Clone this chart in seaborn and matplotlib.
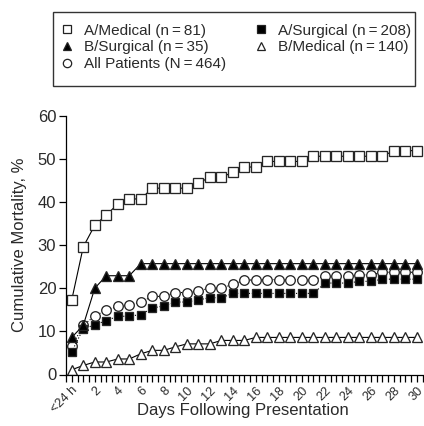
import matplotlib
matplotlib.use("Agg")
import matplotlib.pyplot as plt
from matplotlib.lines import Line2D
from matplotlib.patches import Rectangle
import numpy as np
import pandas as pd
import seaborn as sns

# ---- data ----
days = list(range(31))  # 0 = <24 h, then days 1..30
tick_positions = list(range(0, 31, 2))
tick_labels = ["<24 h"] + [str(d) for d in range(2, 31, 2)]

a_medical = [17.3, 29.6, 34.6, 37.0, 39.5, 40.7, 40.7, 43.2, 43.2, 43.2, 43.2,
             44.4, 45.7, 45.7, 46.9, 48.1, 48.1, 49.4, 49.4, 49.4, 49.4,
             50.6, 50.6, 50.6, 50.6, 50.6, 50.6, 50.6, 51.9, 51.9, 51.9]
a_surgical = [5.3, 10.6, 11.5, 12.5, 13.5, 13.5, 13.9, 15.4, 15.9, 16.8, 16.8,
              17.3, 17.8, 17.8, 18.8, 18.8, 18.8, 18.8, 18.8, 18.8, 18.8,
              18.8, 21.2, 21.2, 21.2, 21.6, 21.6, 22.1, 22.1, 22.1, 22.1]
b_surgical = [8.6, 11.4, 20.0, 22.9, 22.9, 22.9] + [25.7] * 25
b_medical = [1.1, 2.1, 2.9, 2.9, 3.6, 3.6, 4.8, 5.6, 5.6, 6.4, 7.1, 7.1, 7.1,
             7.9, 7.9, 7.9] + [8.6] * 15
all_patients = [6.5, 11.4, 13.6, 14.9, 15.8, 16.1, 16.8, 18.1, 18.1, 19.0, 19.0,
                19.4, 20.0, 20.0, 20.9, 21.8, 22.0, 22.0, 22.0, 22.0, 22.0,
                22.0, 22.8, 22.8, 22.8, 23.1, 23.1, 23.7, 23.7, 23.7, 23.7]

labels = ["A/Medical (n\u2009=\u200981)", "A/Surgical (n\u2009=\u2009208)",
          "B/Surgical (n\u2009=\u200935)", "B/Medical (n\u2009=\u2009140)",
          "All Patients (N\u2009=\u2009464)"]

sns.set_style("ticks")
plt.rcParams["font.family"] = ["Liberation Sans", "DejaVu Sans"]
TXT = "#2a2a2a"
W, H = 424, 426

fig, ax = plt.subplots(figsize=(W / 100, H / 100), dpi=100)
fig.subplots_adjust(left=66 / W, right=422.75 / W, bottom=1 - 374.5 / H,
                    top=1 - 115.7 / H)

styles = {
    labels[0]: dict(marker="s", mfc="white", ls="-", ms=6.7),
    labels[1]: dict(marker="s", mfc="black", ls=":", ms=5.6),
    labels[2]: dict(marker="^", mfc="black", ls="-", ms=6.6),
    labels[4]: dict(marker="o", mfc="white", ls=":", ms=6.9),
    labels[3]: dict(marker="^", mfc="white", ls="-", ms=7.5),
}
series = {labels[0]: a_medical, labels[1]: a_surgical, labels[2]: b_surgical,
          labels[3]: b_medical, labels[4]: all_patients}

for name in [labels[3], labels[4], labels[1], labels[2], labels[0]]:
    st = styles[name]
    df = pd.DataFrame({"day": days, "pct": series[name]})
    sns.lineplot(data=df, x="day", y="pct", ax=ax, color="black", lw=0.8,
                 linestyle=st["ls"], marker=st["marker"], markersize=st["ms"],
                 markerfacecolor=st["mfc"], markeredgecolor="#262626",
                 markeredgewidth=0.95)

ax.set_xlim(-0.5, 30.5)
ax.set_ylim(0, 60)
ax.set_yticks([0, 10, 20, 30, 40, 50, 60])
ax.set_xticks(tick_positions)
ax.set_xticklabels(tick_labels, rotation=45, ha="right", va="top",
                   rotation_mode="anchor")
ax.set_xticks(np.arange(-0.5, 30.51, 0.5), minor=True)
ax.tick_params(axis="both", which="major", direction="out", length=5, width=0.9,
               color="black", labelcolor=TXT, pad=2)
ax.tick_params(axis="y", labelsize=12)
ax.tick_params(axis="x", labelsize=9.2)
ax.tick_params(axis="x", which="minor", direction="out", length=5, width=0.9,
               color="black")
sns.despine(ax=ax)
for s in ["left", "bottom"]:
    ax.spines[s].set_color("black")
    ax.spines[s].set_linewidth(0.9)

ax.set_xlabel("Days Following Presentation", fontsize=12, color=TXT)
ax.set_ylabel("Cumulative Mortality, %", fontsize=12, color=TXT)
ax.xaxis.set_label_coords((243 - 66) / 356.75, -(411 - 374.5) / 258.8)
ax.xaxis.label.set_va("center")
ax.yaxis.set_label_coords(-(66 - 20) / 356.75, 0.5)
ax.yaxis.label.set_va("center")

# legend box and entries
fig.add_artist(Rectangle((53 / W, 1 - 86 / H), 362 / W, 74 / H,
                         transform=fig.transFigure, fill=False,
                         edgecolor="#333333", linewidth=1.0))
order = [labels[0], labels[2], labels[4], labels[1], labels[3]]
handles = [Line2D([], [], ls="none", marker=styles[n]["marker"],
                  markersize=6.0, markerfacecolor=styles[n]["mfc"],
                  markeredgecolor="#222222", markeredgewidth=0.9) for n in order]
leg = fig.legend(handles, order, loc="center left",
                 bbox_to_anchor=(53 / W, 1 - 47.5 / H),
                 ncol=2, frameon=False, fontsize=11,
                 labelspacing=0.18, handlelength=1.0, handletextpad=0.6,
                 borderpad=0.42, borderaxespad=0, columnspacing=1.8,
                 labelcolor=TXT)

fig.savefig("out.png", dpi=100)
